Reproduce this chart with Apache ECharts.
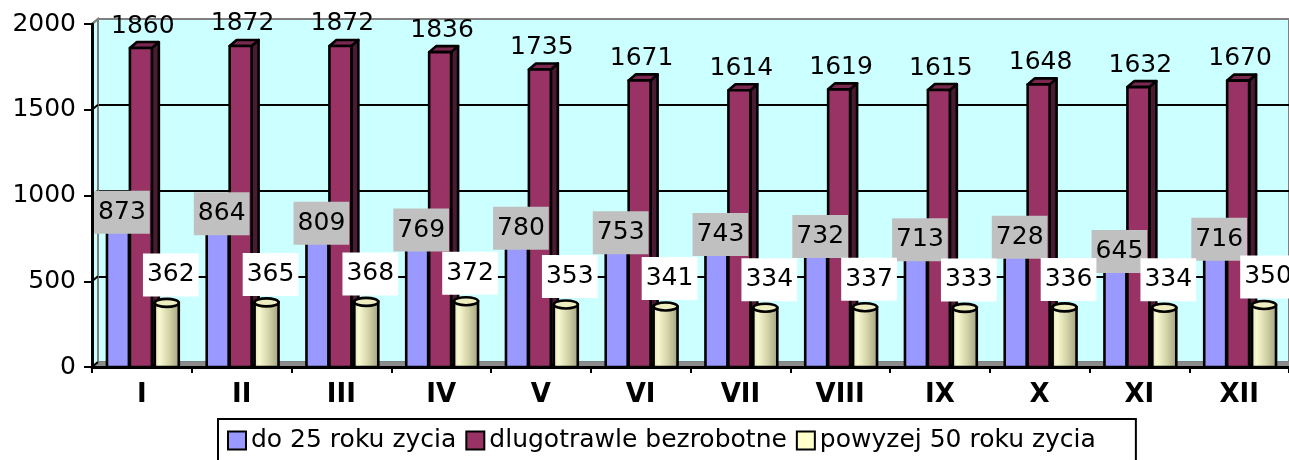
<!DOCTYPE html>
<html>
<head>
<meta charset="utf-8">
<script src="https://cdn.jsdelivr.net/npm/echarts@6/dist/echarts.min.js"></script>
<style>
html,body{margin:0;padding:0;background:#fff;}
#chart{width:1289px;height:460px;}
</style>
</head>
<body>
<div id="chart"></div>
<script>
// ---- data ----
const categories = ['I','II','III','IV','V','VI','VII','VIII','IX','X','XI','XII'];
const seriesNames = ['do 25 roku zycia', 'dlugotrawle bezrobotne', 'powyzej 50 roku zycia'];
const youth    = [873, 864, 809, 769, 780, 753, 743, 732, 713, 728, 645, 716];
const longTerm = [1860, 1872, 1872, 1836, 1735, 1671, 1614, 1619, 1615, 1648, 1632, 1670];
const over50   = [362, 365, 368, 372, 353, 341, 334, 337, 333, 336, 334, 350];
const yTicks   = [0, 500, 1000, 1500, 2000];

// ---- styling ----
const FONT = 'DejaVu Sans';
const BAR_DX = 7, BAR_DY = -6;
const WALL_DX = 6, WALL_DY = -5;
const LW = 2.6;

function labelEl(text, x, y, bg, z2) {
  const style = {
    text: text, x: x, y: y, align: 'center', verticalAlign: 'middle',
    fontSize: 25, fontFamily: FONT, fill: '#000'
  };
  if (bg) { style.backgroundColor = bg; style.padding = [9, 4, 9, 4]; }
  return { type: 'text', z2: z2, style: style };
}

function boxRenderer(cfg) {
  return function (params, api) {
    const i = api.value(0), v = api.value(1);
    const top = api.coord([i, v]);
    const bot = api.coord([i, 0]);
    const band = api.size([1, 0])[0];
    const w = band * 0.22;
    const cx = top[0] + band * cfg.offset;
    const xL = cx - w / 2, xR = cx + w / 2, yT = top[1], yB = bot[1];
    const stroke = { stroke: '#000', lineWidth: LW, lineJoin: 'round' };
    return {
      type: 'group',
      children: [
        { type: 'polygon', shape: { points: [[xR, yT], [xR + BAR_DX, yT + BAR_DY], [xR + BAR_DX, yB + BAR_DY], [xR, yB]] },
          style: Object.assign({ fill: cfg.side }, stroke) },
        { type: 'polygon', shape: { points: [[xL, yT], [xR, yT], [xR + BAR_DX, yT + BAR_DY], [xL + BAR_DX, yT + BAR_DY]] },
          style: Object.assign({ fill: cfg.topc }, stroke) },
        { type: 'rect', shape: { x: xL, y: yT, width: w, height: yB - yT },
          style: Object.assign({ fill: cfg.color }, stroke) },
        labelEl(String(v), top[0] + band * cfg.labelDx, yT + cfg.labelDy, cfg.labelBg, cfg.z2)
      ]
    };
  };
}

function cylinderRenderer(cfg) {
  return function (params, api) {
    const i = api.value(0), v = api.value(1);
    const top = api.coord([i, v]);
    const bot = api.coord([i, 0]);
    const band = api.size([1, 0])[0];
    const w = band * 0.24;
    const r = w / 2, ry = 4;
    const cx = top[0] + band * cfg.offset;
    const yT = top[1] - 2, yB = bot[1];
    const grad = new echarts.graphic.LinearGradient(0, 0, 1, 0, [
      { offset: 0, color: '#E4E4AE' },
      { offset: 0.22, color: '#F8F8D2' },
      { offset: 0.6, color: '#D2D2A6' },
      { offset: 1, color: '#9E9E80' }
    ]);
    return {
      type: 'group',
      children: [
        { type: 'rect', shape: { x: cx - r, y: yT, width: w, height: yB - yT },
          style: { fill: grad, stroke: '#000', lineWidth: LW } },
        { type: 'ellipse', shape: { cx: cx, cy: yT, rx: r, ry: ry },
          style: { fill: '#EEEEC0', stroke: '#000', lineWidth: LW } },
        labelEl(String(v), top[0] + band * cfg.labelDx, top[1] + cfg.labelDy, cfg.labelBg, cfg.z2)
      ]
    };
  };
}

function decorRenderer(params, api) {
  const cs = params.coordSys;
  const x0 = cs.x, yt = cs.y, yb = cs.y + cs.height, x1 = cs.x + cs.width;
  const children = [
    { type: 'polygon', shape: { points: [[x0, yb], [x1, yb], [x1 + WALL_DX, yb + WALL_DY], [x0 + WALL_DX, yb + WALL_DY]] },
      style: { fill: '#8C8C8C' } },
    { type: 'polygon', shape: { points: [[x0, yb], [x0, yt], [x0 + WALL_DX, yt + WALL_DY], [x0 + WALL_DX, yb + WALL_DY]] },
      style: { fill: '#CCFFFF', stroke: '#808080', lineWidth: 2 } }
  ];
  yTicks.forEach(function (t) {
    const p = api.coord([0, t]);
    children.push({ type: 'line', shape: { x1: x0, y1: p[1], x2: x0 + WALL_DX, y2: p[1] + WALL_DY },
      style: { stroke: t === 2000 ? '#808080' : '#000', lineWidth: 2 } });
  });
  return { type: 'group', children: children };
}

const toData = arr => arr.map((v, i) => [i, v]);

const option = {
  animation: false,
  backgroundColor: '#fff',
  textStyle: { fontFamily: FONT },
  legend: {
    data: seriesNames,
    left: 218, top: 419,
    padding: [9, 40, 12, 9],
    borderColor: '#000', borderWidth: 2,
    itemWidth: 18, itemHeight: 18, itemGap: 9,
    icon: 'rect',
    itemStyle: { borderColor: '#000', borderWidth: 2 },
    textStyle: { fontSize: 25, fontFamily: FONT, color: '#000' }
  },
  grid: [
    { left: 92, top: 24, width: 1200, height: 343, containLabel: false },
    { left: 98, top: 19, width: 1200, height: 343, show: true, backgroundColor: '#CCFFFF',
      borderColor: '#808080', borderWidth: 2, z: 0 }
  ],
  xAxis: [
    { type: 'category', gridIndex: 0, data: categories, z: 5,
      axisLine: { lineStyle: { color: '#000', width: 3 } },
      axisTick: { show: true, length: 6, lineStyle: { color: '#000', width: 2 } },
      axisLabel: { fontSize: 26, fontWeight: 'bold', color: '#000', fontFamily: FONT, margin: 15 },
      splitLine: { show: false } },
    { type: 'category', gridIndex: 1, data: categories, show: false }
  ],
  yAxis: [
    { type: 'value', gridIndex: 0, min: 0, max: 2000, interval: 500, z: 5,
      axisLine: { show: true, lineStyle: { color: '#000', width: 3 } },
      axisTick: { show: true, length: 8, lineStyle: { color: '#000', width: 2 } },
      axisLabel: { fontSize: 25, color: '#000', fontFamily: FONT, margin: 16, formatter: v => String(v) },
      splitLine: { show: false } },
    { type: 'value', gridIndex: 1, min: 0, max: 2000, interval: 500,
      axisLine: { show: false }, axisTick: { show: false }, axisLabel: { show: false },
      splitLine: { show: true, showMinLine: false, showMaxLine: false, lineStyle: { color: '#000', width: 2 } } }
  ],
  series: [
    { type: 'custom', name: 'decor', xAxisIndex: 0, yAxisIndex: 0, z: 1, silent: true,
      data: [[0, 0]], renderItem: decorRenderer },
    { type: 'custom', name: seriesNames[0], xAxisIndex: 0, yAxisIndex: 0, z: 2,
      itemStyle: { color: '#9999FF' }, encode: { x: 0, y: 1 }, data: toData(youth),
      renderItem: boxRenderer({ offset: -0.24, color: '#9999FF', side: '#5E5EA8', topc: '#7B7BDD',
        labelDx: -0.20, labelDy: -5, labelBg: '#C0C0C0', z2: 100 }) },
    { type: 'custom', name: seriesNames[1], xAxisIndex: 0, yAxisIndex: 0, z: 2,
      itemStyle: { color: '#993366' }, encode: { x: 0, y: 1 }, data: toData(longTerm),
      renderItem: boxRenderer({ offset: -0.01, color: '#993366', side: '#4A1B33', topc: '#7A2850',
        labelDx: 0.01, labelDy: -22, labelBg: null, z2: 99 }) },
    { type: 'custom', name: seriesNames[2], xAxisIndex: 0, yAxisIndex: 0, z: 2,
      itemStyle: { color: '#FFFFCC' }, encode: { x: 0, y: 1 }, data: toData(over50),
      renderItem: cylinderRenderer({ offset: 0.25, labelDx: 0.29, labelDy: -30, labelBg: '#FFFFFF', z2: 101 }) }
  ]
};

const chart = echarts.init(document.getElementById('chart'), null, { renderer: 'canvas' });
chart.setOption(option);
</script>
</body>
</html>
